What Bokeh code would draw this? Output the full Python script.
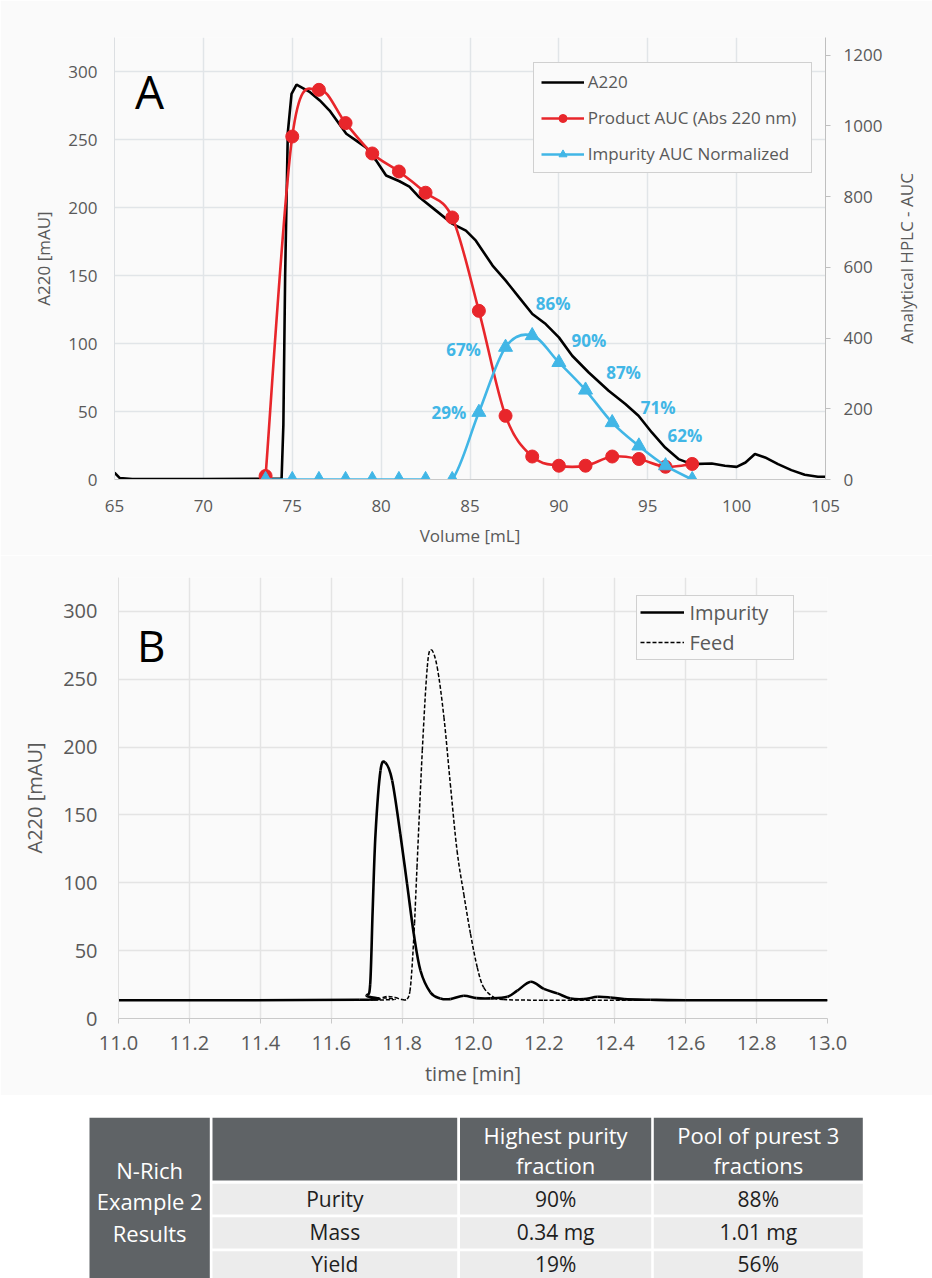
import math
from bokeh.plotting import figure
from bokeh.models import (Range1d, LinearAxis, Legend, LegendItem, Label,
                          ColumnDataSource, FixedTicker, CustomJSTickFormatter)
from bokeh.core.properties import value
from bokeh.embed import file_html
from bokeh.resources import INLINE

# ---------------- Panel A data ----------------
a220_ml = [65.0, 65.3, 66.0, 70.0, 74.4, 74.5, 74.6, 74.75, 74.96, 75.24, 76.0, 76.55,
           77.1, 78.04, 78.6, 79.16, 79.72, 80.28, 81.03, 81.59, 82.15, 83.09, 84.02,
           84.77, 85.33, 86.27, 87.01, 87.76, 88.51, 89.26, 90.0, 90.75, 91.68, 92.8,
           93.74, 94.48, 95.23, 95.98, 96.73, 97.47, 98.6, 99.34, 100.0, 100.5, 101.03,
           101.6, 102.33, 103.08, 103.83, 104.57, 105.0]
a220_mau = [5.0, 1.0, 0.3, 0.3, 0.5, 40.0, 150.0, 255.0, 283.6, 290.4, 284.8, 278.7,
            271.3, 254.2, 249.2, 243.9, 234.5, 223.5, 219.3, 215.4, 207.5, 197.7, 187.9,
            183.0, 175.6, 157.3, 146.2, 133.9, 121.7, 114.3, 104.5, 91.0, 78.7, 65.3,
            55.5, 46.9, 34.6, 23.5, 15.0, 11.3, 11.8, 10.1, 9.3, 12.5, 18.7,
            16.2, 11.3, 6.9, 3.5, 2.0, 2.0]

fraction_ml = [73.5, 75.0, 76.5, 78.0, 79.5, 81.0, 82.5, 84.0, 85.5, 87.0, 88.5, 90.0,
               91.5, 93.0, 94.5, 96.0, 97.5]
product_auc = [10, 970, 1102, 1008, 922, 871, 811, 741, 477, 180, 65, 39, 39, 65, 58, 36, 44]
impurity_auc = [0, 0, 0, 0, 0, 0, 0, 0, 190, 374, 407, 331, 253, 161, 95, 39, 0]
purity_fraction_ml = [85.5, 87.0, 88.5, 90.0, 91.5, 93.0, 94.5]
purity_text = ["29%", "67%", "86%", "90%", "87%", "71%", "62%"]

vol_ticks = [65, 70, 75, 80, 85, 90, 95, 100, 105]
mau_ticks = [0, 50, 100, 150, 200, 250, 300]
auc_ticks = [0, 200, 400, 600, 800, 1000, 1200]

# ---------------- Panel B data ----------------
imp_min = [11.0, 11.68, 11.70, 11.71, 11.717, 11.725, 11.739, 11.753, 11.772, 11.795,
           11.814, 11.833, 11.852, 11.88, 11.908, 11.936, 11.974, 12.01, 12.049, 12.097,
           12.125, 12.163, 12.2, 12.238, 12.275, 12.313, 12.351, 12.388, 12.426, 12.5,
           12.6, 13.0]
imp_mau = [13.5, 13.8, 17.0, 25.4, 80.0, 136.0, 182.7, 188.4, 175.4, 136.0,
           99.2, 62.3, 35.2, 19.2, 14.8, 14.3, 16.8, 15.0, 14.8, 16.0,
           20.5, 27.1, 21.8, 18.5, 14.8, 14.3, 16.0, 15.5, 14.3, 13.8,
           13.5, 13.5]
feed_min = [11.0, 11.72, 11.745, 11.762, 11.78, 11.80, 11.814, 11.822, 11.828, 11.835,
            11.842, 11.857, 11.871, 11.882, 11.899, 11.918, 11.936, 11.955, 11.974,
            11.993, 12.012, 12.03, 12.059, 12.085, 12.2, 12.6, 13.0]
feed_mau = [13.5, 13.6, 15.5, 16.3, 15.5, 14.0, 14.3, 20.0, 37.7, 70.0,
            111.4, 197.5, 258.9, 271.7, 258.9, 222.0, 172.9, 123.7, 91.7,
            62.3, 37.7, 22.9, 15.6, 14.0, 13.5, 13.5, 13.5]
time_ticks = [11.0, 11.2, 11.4, 11.6, 11.8, 12.0, 12.2, 12.4, 12.6, 12.8, 13.0]

# ---------------- Table data ----------------
table_side = "N-Rich\nExample 2\nResults"
table_header = ["", "Highest purity\nfraction", "Pool of purest 3\nfractions"]
row_names = ["Purity", "Mass", "Yield"]
highest_vals = ["90%", "0.34 mg", "19%"]
pool_vals = ["88%", "1.01 mg", "56%"]

# ---------------- styles ----------------
FONT = "Open Sans"
GRAY_TXT = "#595959"
GRID = "#e1e5e8"
BG = "#fafafa"
RED = "#e8262b"
BLUE = "#41b6e6"


def smooth_segments(xs, ys):
    n = len(xs)
    d = dict(x0=[], y0=[], x1=[], y1=[], cx0=[], cy0=[], cx1=[], cy1=[])
    for i in range(n - 1):
        im = max(i - 1, 0)
        ip = min(i + 2, n - 1)
        d["x0"].append(xs[i]); d["y0"].append(ys[i])
        d["x1"].append(xs[i + 1]); d["y1"].append(ys[i + 1])
        d["cx0"].append(xs[i] + (xs[i + 1] - xs[im]) / 6.0)
        d["cy0"].append(ys[i] + (ys[i + 1] - ys[im]) / 6.0)
        d["cx1"].append(xs[i + 1] - (xs[ip] - xs[i]) / 6.0)
        d["cy1"].append(ys[i + 1] - (ys[ip] - ys[i]) / 6.0)
    return ColumnDataSource(d)


def style_axis(ax, size, line_color, tick_out=0, standoff=14, label_standoff=10):
    ax.major_label_text_font = FONT
    ax.major_label_text_font_size = size
    ax.major_label_text_color = GRAY_TXT
    ax.axis_label_text_font = FONT
    ax.axis_label_text_font_size = size
    ax.axis_label_text_color = GRAY_TXT
    ax.axis_label_text_font_style = "normal"
    ax.axis_line_color = line_color
    ax.major_tick_line_color = line_color
    ax.major_tick_out = tick_out
    ax.major_tick_in = 0
    ax.minor_tick_line_color = None
    ax.major_label_standoff = standoff
    ax.axis_label_standoff = label_standoff


BEZ = ["x0", "y0", "x1", "y1", "cx0", "cy0", "cx1", "cy1"]

# ================= Panel A =================
pA = figure(width=932, height=555, x_range=Range1d(65, 105), y_range=Range1d(0, 325),
            output_backend="svg", toolbar_location=None,
            min_border_left=114, min_border_right=104, min_border_top=37,
            min_border_bottom=76)
pA.background_fill_color = BG
pA.border_fill_color = BG
pA.outline_line_color = None
pA.extra_y_ranges = {"auc": Range1d(0, 1250)}

pA.xaxis.ticker = FixedTicker(ticks=vol_ticks)
pA.yaxis.ticker = FixedTicker(ticks=mau_ticks)
pA.xaxis.axis_label = "Volume [mL]"
pA.yaxis.axis_label = "A220 [mAU]"
style_axis(pA.xaxis[0], "17px", "#c9c9c9", 0, 20, 9)
style_axis(pA.yaxis[0], "17px", "#dcdfe2", 0, 17, 10)
right_ax = LinearAxis(y_range_name="auc", ticker=FixedTicker(ticks=auc_ticks))
style_axis(right_ax, "17px", "#bfbfbf", 5, 13, 14)
pA.add_layout(right_ax, "right")

# bare right axis whose single rotated tick label is the right-axis title
# (reads bottom to top, starting at the tick position)
TITLE_START = 384
title_ax = LinearAxis(y_range_name="auc", ticker=FixedTicker(ticks=[TITLE_START]),
                      major_label_overrides={TITLE_START: "Analytical HPLC - AUC"})
style_axis(title_ax, "17px", None, 0, 21, 0)
title_ax.major_label_orientation = math.pi / 2
pA.add_layout(title_ax, "right")

pA.xgrid.ticker = FixedTicker(ticks=vol_ticks)
pA.ygrid.ticker = FixedTicker(ticks=mau_ticks)
pA.grid.grid_line_color = GRID
pA.grid.grid_line_width = 1.5

r_black = pA.line(a220_ml, a220_mau, line_color="black", line_width=2.6)

red_src = smooth_segments(fraction_ml, product_auc)
r_red_curve = pA.bezier(*BEZ, source=red_src, line_color=RED, line_width=2.6,
                        y_range_name="auc")
r_red_pts = pA.scatter(fraction_ml, product_auc, marker="circle", size=13,
                       fill_color=RED, line_color=RED, y_range_name="auc")

blue_src = smooth_segments(fraction_ml, impurity_auc)
r_blue_curve = pA.bezier(*BEZ, source=blue_src, line_color=BLUE, line_width=2.6,
                         y_range_name="auc")
r_blue_pts = pA.scatter(fraction_ml, impurity_auc, marker="triangle", size=14,
                        fill_color=BLUE, line_color=BLUE, y_range_name="auc")

# purity labels, anchored to the impurity points
label_y = [impurity_auc[fraction_ml.index(v)] for v in purity_fraction_ml]
lab_dx = [-30, -42, 21, 30, 38, 46, 46]
lab_dy = [0, 2, -32, -22, -18, -15, -10]
lab_src = ColumnDataSource(dict(x=purity_fraction_ml, y=label_y, text=purity_text,
                                dx=lab_dx, dy=lab_dy))
pA.text(x="x", y="y", text="text", x_offset="dx", y_offset="dy", source=lab_src,
        y_range_name="auc", text_font=value(FONT), text_font_size="17px",
        text_font_style="bold", text_color=BLUE, text_align="center",
        text_baseline="middle")

pA.add_layout(Label(x=66.15, y=286, text="A", text_font=FONT, text_font_size="46px",
                    text_color="black", text_baseline="alphabetic"))

legA = Legend(items=[LegendItem(label="A220", renderers=[r_black]),
                     LegendItem(label="Product AUC (Abs 220 nm)",
                                renderers=[r_red_curve, r_red_pts]),
                     LegendItem(label="Impurity AUC Normalized",
                                renderers=[r_blue_curve, r_blue_pts])],
              location=(418.7, 306.0), margin=0, padding=7, spacing=13,
              glyph_width=43, glyph_height=20, label_height=20, label_width=216,
              label_standoff=4,
              label_text_font=FONT, label_text_font_size="17px",
              label_text_color=GRAY_TXT, border_line_color="#a6a6a6",
              border_line_width=1.5, background_fill_color=BG, background_fill_alpha=1.0)
pA.add_layout(legA)

# ================= Panel B =================
pB = figure(width=932, height=540, x_range=Range1d(11.0, 13.0), y_range=Range1d(0, 325),
            output_backend="svg", toolbar_location=None,
            min_border_left=118, min_border_right=105, min_border_top=22,
            min_border_bottom=77)
pB.background_fill_color = BG
pB.border_fill_color = BG
pB.outline_line_color = None
pB.xaxis.ticker = FixedTicker(ticks=time_ticks)
pB.yaxis.ticker = FixedTicker(ticks=mau_ticks)
pB.xgrid.ticker = FixedTicker(ticks=time_ticks)
pB.ygrid.ticker = FixedTicker(ticks=mau_ticks)
pB.xaxis.axis_label = "time [min]"
pB.yaxis.axis_label = "A220 [mAU]"
style_axis(pB.xaxis[0], "20px", "#c9c9c9", 5, 12, 7)
style_axis(pB.yaxis[0], "20px", "#e0e0e0", 0, 21, 12)
pB.xaxis.formatter = CustomJSTickFormatter(code="return tick.toFixed(1);")
pB.grid.grid_line_color = "#e4e4e4"
pB.grid.grid_line_width = 1.5

imp_src = smooth_segments(imp_min, imp_mau)
r_imp = pB.bezier(*BEZ, source=imp_src, line_color="black", line_width=2.6)
feed_src = smooth_segments(feed_min, feed_mau)
r_feed = pB.bezier(*BEZ, source=feed_src, line_color="black", line_width=1.5,
                   line_dash="4 2")

pB.add_layout(Label(x=11.052, y=275, text="B", text_font=FONT, text_font_size="44px",
                    text_color="black", text_baseline="alphabetic"))

legB = Legend(items=[LegendItem(label="Impurity", renderers=[r_imp]),
                     LegendItem(label="Feed", renderers=[r_feed])],
              location=(518.4, 358.5), margin=0, padding=3, spacing=3,
              glyph_width=44, glyph_height=20, label_height=20, label_width=101,
              label_standoff=5,
              label_text_font=FONT, label_text_font_size="20px",
              label_text_color=GRAY_TXT, border_line_color="#a6a6a6",
              border_line_width=1.5, background_fill_color=BG, background_fill_alpha=1.0)
pB.add_layout(legB)

# ================= Table =================
pT = figure(width=932, height=183, x_range=Range1d(0, 932), y_range=Range1d(1278, 1095),
            output_backend="svg", toolbar_location=None, min_border=0,
            x_axis_type=None, y_axis_type=None)
pT.background_fill_color = "white"
pT.border_fill_color = "white"
pT.outline_line_color = None
pT.grid.visible = False

DARK = "#5f6366"
LIGHT = "#ececec"
col_l = [89.0, 212.0, 459.5, 653.3]
col_r = [209.3, 456.7, 650.7, 862.3]
head_top, head_bot = 1117.3, 1180.0
row_top = [1183.3, 1216.7, 1250.7]
row_bot = [1214.0, 1248.0, 1284.0]

pT.quad(left=[col_l[0]], right=[col_r[0]], top=[head_top], bottom=[1284.0],
        fill_color=DARK, line_color=None)
pT.quad(left=col_l[1:], right=col_r[1:], top=[head_top] * 3, bottom=[head_bot] * 3,
        fill_color=DARK, line_color=None)
for j in range(1, 4):
    pT.quad(left=[col_l[j]] * 3, right=[col_r[j]] * 3, top=row_top, bottom=row_bot,
            fill_color=LIGHT, line_color=None)

cx = [(a + b) / 2 for a, b in zip(col_l, col_r)]
pT.text(x=[cx[0]], y=[1201.0], text=[table_side], text_font=value(FONT),
        text_font_size="22px", text_color="white", text_align="center",
        text_baseline="middle", text_line_height=1.06)
pT.text(x=cx[1:], y=[1149.5] * 3, text=table_header,
        text_font=value(FONT), text_font_size="22px", text_color="white",
        text_align="center", text_baseline="middle", text_line_height=1.03)
ry = [1198.5, 1231.5, 1263.0]
pT.text(x=[cx[1]] * 3, y=ry, text=row_names, text_font=value(FONT),
        text_font_size="21px", text_color="#1e1e1e", text_align="center",
        text_baseline="middle")
pT.text(x=[cx[2]] * 3, y=ry, text=highest_vals, text_font=value(FONT),
        text_font_size="21px", text_color="#1e1e1e", text_align="center",
        text_baseline="middle")
pT.text(x=[cx[3]] * 3, y=ry, text=pool_vals, text_font=value(FONT),
        text_font_size="21px", text_color="#1e1e1e", text_align="center",
        text_baseline="middle")

open("out.html", "w").write(file_html([pA, pB, pT], INLINE))
